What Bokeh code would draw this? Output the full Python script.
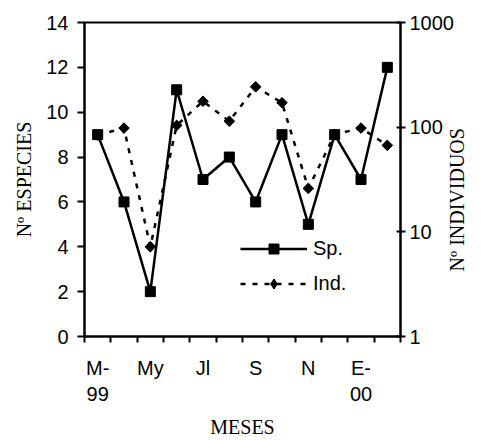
import math
from bokeh.plotting import figure
from bokeh.models import (Range1d, LinearAxis, LogAxis, LogScale, FixedTicker,
                          NumeralTickFormatter, Legend)
from bokeh.embed import file_html
from bokeh.resources import INLINE

# ---- data ----
months = ["Mar-99", "Abr", "May", "Jun", "Jul", "Ago", "Sep", "Oct", "Nov", "Dic", "Ene-00", "Feb"]
species = [9, 6, 2, 11, 7, 8, 6, 9, 5, 9, 7, 12]
individuals = [84, 98, 7.2, 104, 177, 114, 243, 171, 26, 85, 98, 67]
x_tick_pos = [1, 3, 5, 7, 9, 11]
x_tick_labels = ["M-\n99", "My", "Jl", "S", "N", "E-\n00"]
left_ticks = [0, 2, 4, 6, 8, 10, 12, 14]
right_ticks = [1, 10, 100, 1000]

xs = list(range(1, len(months) + 1))

SANS = "Liberation Sans"
SERIF = "Liberation Serif"

p = figure(width=481, height=440, output_backend="svg", toolbar_location=None,
           x_range=Range1d(0.5, len(months) + 0.5), y_range=Range1d(0, 14),
           min_border_left=84, min_border_right=78, min_border_top=22, min_border_bottom=104,
           x_axis_type=None, y_axis_type=None)
p.extra_y_ranges = {"ind": Range1d(1, 1000)}
p.extra_y_scales = {"ind": LogScale()}
p.grid.visible = False
p.outline_line_color = "black"
p.outline_line_width = 2
p.background_fill_color = "white"
p.border_fill_color = "white"


def style_title(ax, text, standoff):
    ax.axis_label = text
    ax.axis_label_standoff = standoff
    ax.axis_label_text_font = SERIF
    ax.axis_label_text_font_size = "20px"
    ax.axis_label_text_font_style = "normal"
    ax.axis_label_text_color = "black"


# x axis
xa = LinearAxis(ticker=FixedTicker(ticks=x_tick_pos, minor_ticks=[i + 0.5 for i in range(len(months) + 1)]))
xa.major_label_overrides = {k: v for k, v in zip(x_tick_pos, x_tick_labels)}
xa.axis_line_color = "black"
xa.axis_line_width = 2
xa.major_tick_line_color = None
xa.major_tick_out = 6
xa.major_tick_in = 0
xa.minor_tick_line_color = "black"
xa.minor_tick_line_width = 2
xa.minor_tick_out = 6
xa.minor_tick_in = 0
xa.major_label_standoff = 14
xa.major_label_text_font = SANS
xa.major_label_text_font_size = "20px"
xa.major_label_text_color = "black"
xa.major_label_text_line_height = 1.2
style_title(xa, "MESES", 8)
p.add_layout(xa, "below")

# left axis
ya = LinearAxis(ticker=FixedTicker(ticks=left_ticks, minor_ticks=[]))
ya.axis_line_width = 2
ya.axis_line_color = "black"
ya.major_tick_line_width = 2
ya.major_tick_line_color = "black"
ya.major_tick_out = 7
ya.major_tick_in = 0
ya.minor_tick_line_color = None
ya.major_label_standoff = 9
ya.major_label_text_font = SANS
ya.major_label_text_font_size = "20px"
ya.major_label_text_color = "black"
style_title(ya, "Nº ESPECIES", 8)
p.add_layout(ya, "left")

# right axis (log)
ra = LogAxis(y_range_name="ind", ticker=FixedTicker(ticks=right_ticks, minor_ticks=[]),
             formatter=NumeralTickFormatter(format="0"))
ra.axis_line_width = 2
ra.axis_line_color = "black"
ra.major_tick_line_width = 2
ra.major_tick_line_color = "black"
ra.major_tick_out = 5
ra.major_tick_in = 4
ra.minor_tick_line_color = None
ra.major_label_standoff = 4
ra.major_label_text_font = SANS
ra.major_label_text_font_size = "20px"
ra.major_label_text_color = "black"
# title reads bottom-to-top and sits a little below the middle, as in the original
style_title(ra, "\u00a0" * 13 + "Nº INDIVIDUOS", 0)
try:
    ra.axis_label_orientation = math.pi / 2
    ra.axis_label_align = "start"
except Exception:
    pass
p.add_layout(ra, "right")

# series
l_ind = p.line(xs, individuals, y_range_name="ind", line_color="black", line_width=2.5,
               line_dash="5 7")
s_ind = p.scatter(xs, individuals, y_range_name="ind", marker="square", angle=math.pi / 4,
                  size=7.5, fill_color="black", line_color="black")
l_sp = p.line(xs, species, line_color="black", line_width=2.5)
s_sp = p.scatter(xs, species, marker="square", size=10, fill_color="black", line_color="black")
# legend key marker (diamond shape), not drawn in the plot itself
k_ind = p.scatter(xs, individuals, y_range_name="ind", marker="diamond",
                  fill_color="black", line_color="black", visible=False)

legend = Legend(items=[("Sp.", [l_sp, s_sp]), ("Ind.", [l_ind, k_ind])],
                location=(156, 40), padding=0, margin=0, label_standoff=6,
                glyph_width=67, glyph_height=25, spacing=10,
                border_line_color=None, background_fill_alpha=0,
                label_text_font=SANS, label_text_font_size="20px", label_text_color="black")
p.add_layout(legend, "center")

open("out.html", "w").write(file_html(p, INLINE))
